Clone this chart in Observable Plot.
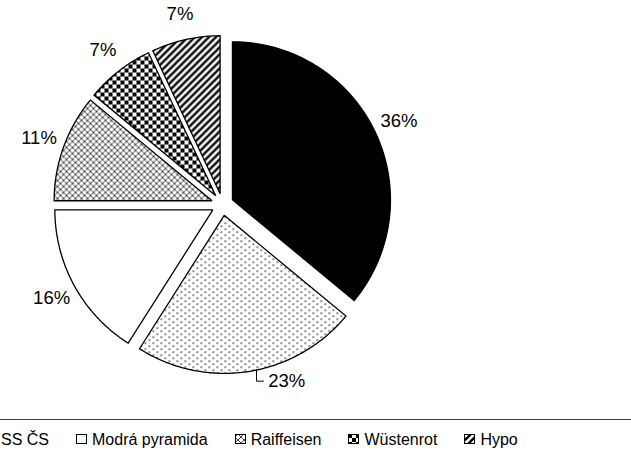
<!DOCTYPE html>
<html><head><meta charset="utf-8">
<script src="https://cdn.jsdelivr.net/npm/d3@7"></script>
<script src="https://cdn.jsdelivr.net/npm/@observablehq/plot@0.6"></script>
<style>
html,body{margin:0;padding:0;background:#fff;overflow:hidden;width:631px;height:464px}
#chart{position:relative;width:631px;height:464px;overflow:hidden;font-family:"Liberation Sans",Arial,sans-serif;color:#000}
#chart svg.plot{position:absolute;left:0;top:0}
#legend{position:absolute;left:0;top:419px;width:631px;height:45px;border-top:1px solid #404040;box-sizing:border-box;overflow:hidden}
#legend .row{position:absolute;top:10px;left:0;display:flex;white-space:nowrap;gap:27px;font-size:16px;line-height:19px}
#legend .item{display:flex;align-items:center}
#legend .item svg{margin-right:4px;display:block}
</style></head><body>
<svg width="0" height="0" style="position:absolute;left:0;top:0">
 <defs>
  <pattern id="pDots" width="8" height="6" patternUnits="userSpaceOnUse">
   <rect width="8" height="6" fill="#fff"/>
   <rect x="0" y="0" width="1.6" height="1.3" fill="#222"/>
   <rect x="4" y="3" width="1.6" height="1.3" fill="#222"/>
  </pattern>
  <pattern id="pDiamond" width="6" height="6" patternUnits="userSpaceOnUse">
   <rect width="6" height="6" fill="#fff"/>
   <path d="M0,3 L3,0 L6,3 L3,6 Z" fill="none" stroke="#444" stroke-width="1"/>
  </pattern>
  <pattern id="pChecker" width="8" height="8" patternUnits="userSpaceOnUse">
   <rect width="8" height="8" fill="#fff"/>
   <rect x="0" y="0" width="4" height="4" fill="#000"/>
   <rect x="4" y="4" width="4" height="4" fill="#000"/>
  </pattern>
  <pattern id="pDiag" width="7" height="7" patternUnits="userSpaceOnUse">
   <rect width="7" height="7" fill="#fff"/>
   <path d="M-1,1 L1,-1 M0,7 L7,0 M6,8 L8,6" stroke="#000" stroke-width="2.3"/>
  </pattern>
 </defs>
</svg>
<div id="chart"><div id="legend"><div class="row"></div></div></div>
<script>
// ---- data ----
const categories = ["ČMSS", "SS ČS", "Modrá pyramida", "Raiffeisen", "Wüstenrot", "Hypo"];
const shares = [36, 23, 16, 11, 7, 7];
const labels = ["36%", "23%", "16%", "11%", "7%", "7%"];
const fills = ["#000000", "url(#pDots)", "#ffffff", "url(#pDiamond)", "url(#pChecker)", "url(#pDiag)"];

// ---- layout ----
const W = 631, H = 419;
const cx = 222, cy = 204, R = 158, explode = 11, labelDist = 195;
const movedLabel = {index: 1, angle: 160, dist: 188}; // label moved by the original, with leader line
const fontSize = 18.5;

const arcs = d3.pie().sort(null).value(d => d)(shares);
const pts = [];
const labelData = [];
let leader = [];
arcs.forEach((a, i) => {
  const k = categories[i];
  const mid = (a.startAngle + a.endAngle) / 2;
  const ox = cx + explode * Math.sin(mid), oy = cy - explode * Math.cos(mid);
  pts.push({k, x: ox, y: oy});
  const n = Math.max(2, Math.ceil((a.endAngle - a.startAngle) / 0.01));
  for (let j = 0; j <= n; j++) {
    const t = a.startAngle + (a.endAngle - a.startAngle) * j / n;
    pts.push({k, x: ox + R * Math.sin(t), y: oy - R * Math.cos(t)});
  }
  pts.push({k, x: ox, y: oy});
  let lx, ly;
  if (i === movedLabel.index) {
    const t = movedLabel.angle * Math.PI / 180;
    lx = cx + movedLabel.dist * Math.sin(t); ly = cy - movedLabel.dist * Math.cos(t);
    const halfW = labels[i].length * fontSize * 0.33;
    const leaderX = lx - halfW - 12;
    const arcY = oy + Math.sqrt(R * R - (leaderX - ox) ** 2);
    leader = [{x: leaderX, y: arcY}, {x: leaderX, y: ly}, {x: lx - halfW - 5, y: ly}];
  } else {
    lx = cx + labelDist * Math.sin(mid); ly = cy - labelDist * Math.cos(mid);
  }
  labelData.push({x: lx, y: ly, text: labels[i]});
});

const chart = Plot.plot({
  width: W, height: H,
  marginTop: 0, marginRight: 0, marginBottom: 0, marginLeft: 0,
  style: {fontFamily: '"Liberation Sans", Arial, sans-serif', background: "#fff", overflow: "visible"},
  x: {type: "linear", domain: [0, W], range: [0, W], axis: null},
  y: {type: "linear", domain: [0, H], range: [0, H], axis: null},
  color: {type: "ordinal", domain: categories, range: fills},
  marks: [
    Plot.line(pts, {x: "x", y: "y", z: "k", fill: "k", stroke: "#000", strokeWidth: 1.3,
      strokeLinejoin: "miter", strokeLinecap: "butt", strokeMiterlimit: 4, curve: "linear"}),
    Plot.line(leader, {x: "x", y: "y", stroke: "#000", strokeWidth: 1, strokeLinejoin: "miter"}),
    Plot.text(labelData, {x: "x", y: "y", text: "text", fontSize: fontSize, fill: "#000"})
  ]
});
document.getElementById("chart").prepend(chart);

// ---- legend ----
const row = d3.select("#legend .row");
const items = row.selectAll(".item").data(categories).join("div").attr("class", "item");
const sw = items.append("svg").attr("width", 12).attr("height", 11);
sw.append("rect").attr("x", 0.5).attr("y", 0.5).attr("width", 10).attr("height", 9)
  .attr("fill", (d, i) => fills[i]).attr("stroke", "#000").attr("stroke-width", 1);
items.append("span").attr("class", "txt").text(d => d);
// the original legend is wider than the page: "SS ČS" text starts at the left edge
const anchor = items.filter((d, i) => i === 1).select(".txt").node();
const rowNode = row.node();
const off = anchor.getBoundingClientRect().left - rowNode.getBoundingClientRect().left;
rowNode.style.left = (1 - off) + "px";
// entries lying wholly outside the page are not drawn by the original
const legendLeft = document.getElementById("legend").getBoundingClientRect().left;
items.each(function() {
  if (this.getBoundingClientRect().right <= legendLeft) this.style.visibility = "hidden";
});
</script>
</body></html>
